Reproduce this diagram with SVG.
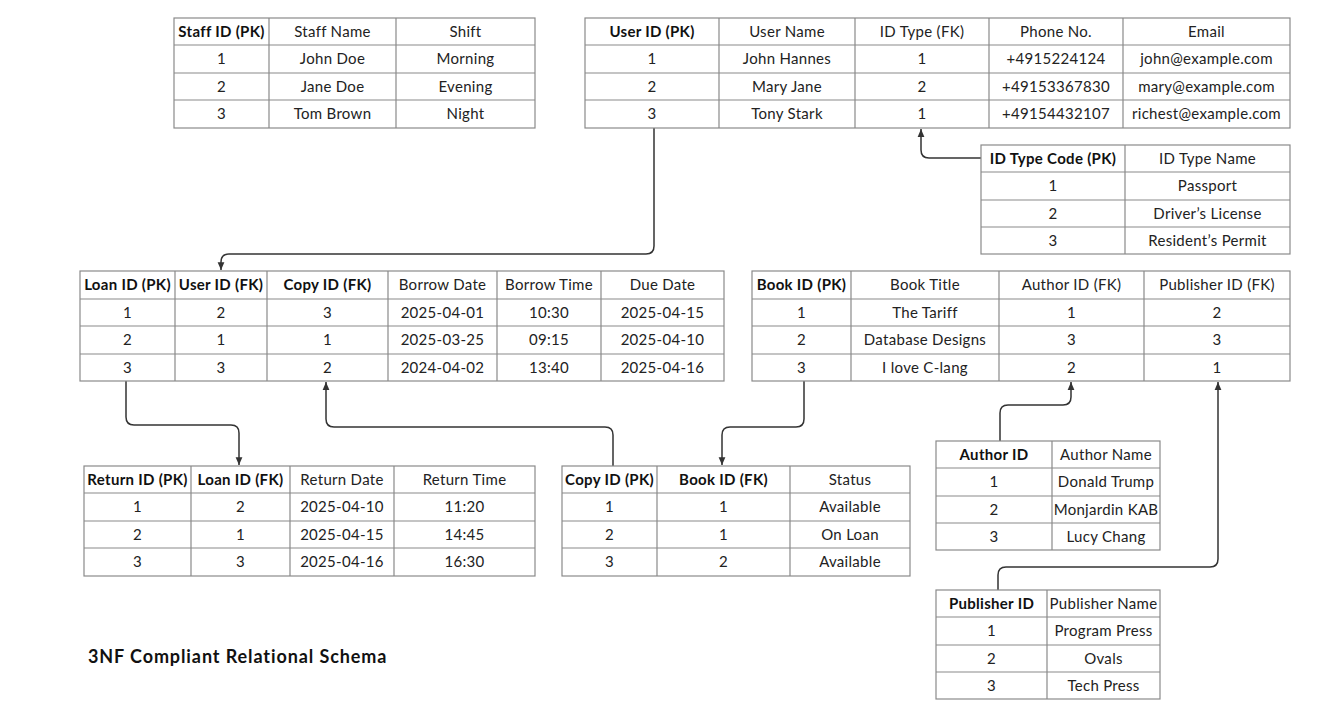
<svg xmlns="http://www.w3.org/2000/svg" width="1335" height="727" viewBox="0 0 1335 727">
<defs>
<style>
.t{fill:none;stroke:#8a8a8a;stroke-width:1.2}
text{font-family:Lato,"Noto Sans",sans-serif;font-size:15px;letter-spacing:0.3px;fill:#222;text-anchor:middle}
.b{font-weight:bold;fill:#111}
.ttl{font-size:18px;font-weight:bold;letter-spacing:0.9px;text-anchor:start;fill:#111}
.cn{fill:none;stroke:#333;stroke-width:1.5}
</style>
<marker id="ar" viewBox="0 0 8 8" refX="7" refY="4" markerWidth="6" markerHeight="6" orient="auto"><path d="M0,1 L7,4 L0,7 z" fill="#333"/></marker>
</defs>
<rect width="1335" height="727" fill="#fff"/>

<g id="connectors">
<path class="cn" marker-end="url(#ar)" d="M654,128 V246 Q654,254 646,254 H229 Q221,254 221,262 V270"/>
<path class="cn" marker-end="url(#ar)" d="M981,158 H929 Q921,158 921,150 V129"/>
<path class="cn" marker-end="url(#ar)" d="M126,381 V417 Q126,425 134,425 H231 Q239,425 239,433 V465"/>
<path class="cn" marker-end="url(#ar)" d="M613,466 V435 Q613,427 605,427 H334 Q326,427 326,419 V382"/>
<path class="cn" marker-end="url(#ar)" d="M804,381 V419 Q804,427 796,427 H730 Q722,427 722,435 V465"/>
<path class="cn" marker-end="url(#ar)" d="M1000,441 V413 Q1000,405 1008,405 H1063 Q1071,405 1071,397 V382"/>
<path class="cn" marker-end="url(#ar)" d="M998,590 V575 Q998,567 1006,567 H1210 Q1218,567 1218,559 V382"/>
</g>

<g id="staff">
<rect class="t" x="174" y="18" width="361" height="110"/>
<path class="t" d="M174,45H535M174,73H535M174,100H535M269,18V128M396,18V128"/>
<text class="b" x="221.5" y="36.5">Staff ID (PK)</text><text x="332.5" y="36.5">Staff Name</text><text x="465.5" y="36.5">Shift</text>
<text x="221.5" y="64">1</text><text x="332.5" y="64">John Doe</text><text x="465.5" y="64">Morning</text>
<text x="221.5" y="91.5">2</text><text x="332.5" y="91.5">Jane Doe</text><text x="465.5" y="91.5">Evening</text>
<text x="221.5" y="119">3</text><text x="332.5" y="119">Tom Brown</text><text x="465.5" y="119">Night</text>
</g>

<g id="user">
<rect class="t" x="585" y="18" width="705" height="110"/>
<path class="t" d="M585,45H1290M585,73H1290M585,100H1290M719,18V128M855,18V128M989,18V128M1123,18V128"/>
<text class="b" x="652" y="36.5">User ID (PK)</text><text x="787" y="36.5">User Name</text><text x="922" y="36.5">ID Type (FK)</text><text x="1056" y="36.5">Phone No.</text><text x="1206.5" y="36.5">Email</text>
<text x="652" y="64">1</text><text x="787" y="64">John Hannes</text><text x="922" y="64">1</text><text x="1056" y="64">+4915224124</text><text x="1206.5" y="64">john@example.com</text>
<text x="652" y="91.5">2</text><text x="787" y="91.5">Mary Jane</text><text x="922" y="91.5">2</text><text x="1056" y="91.5">+49153367830</text><text x="1206.5" y="91.5">mary@example.com</text>
<text x="652" y="119">3</text><text x="787" y="119">Tony Stark</text><text x="922" y="119">1</text><text x="1056" y="119">+49154432107</text><text x="1206.5" y="119">richest@example.com</text>
</g>

<g id="idtype">
<rect class="t" x="981" y="145" width="309" height="109"/>
<path class="t" d="M981,172H1290M981,200H1290M981,227H1290M1125,145V254"/>
<text class="b" x="1053" y="163.5">ID Type Code (PK)</text><text x="1207.5" y="163.5">ID Type Name</text>
<text x="1053" y="191">1</text><text x="1207.5" y="191">Passport</text>
<text x="1053" y="218.5">2</text><text x="1207.5" y="218.5">Driver’s License</text>
<text x="1053" y="245.5">3</text><text x="1207.5" y="245.5">Resident’s Permit</text>
</g>

<g id="loan">
<rect class="t" x="80" y="271" width="644" height="110"/>
<path class="t" d="M80,299H724M80,326H724M80,354H724M175,271V381M267,271V381M388,271V381M497,271V381M601,271V381"/>
<text class="b" x="127.5" y="290">Loan ID (PK)</text><text class="b" x="221" y="290">User ID (FK)</text><text class="b" x="327.5" y="290">Copy ID (FK)</text><text x="442.5" y="290">Borrow Date</text><text x="549" y="290">Borrow Time</text><text x="662.5" y="290">Due Date</text>
<text x="127.5" y="317.5">1</text><text x="221" y="317.5">2</text><text x="327.5" y="317.5">3</text><text x="442.5" y="317.5">2025-04-01</text><text x="549" y="317.5">10:30</text><text x="662.5" y="317.5">2025-04-15</text>
<text x="127.5" y="345">2</text><text x="221" y="345">1</text><text x="327.5" y="345">1</text><text x="442.5" y="345">2025-03-25</text><text x="549" y="345">09:15</text><text x="662.5" y="345">2025-04-10</text>
<text x="127.5" y="372.5">3</text><text x="221" y="372.5">3</text><text x="327.5" y="372.5">2</text><text x="442.5" y="372.5">2024-04-02</text><text x="549" y="372.5">13:40</text><text x="662.5" y="372.5">2025-04-16</text>
</g>

<g id="book">
<rect class="t" x="752" y="271" width="538" height="110"/>
<path class="t" d="M752,299H1290M752,326H1290M752,354H1290M851,271V381M999,271V381M1144,271V381"/>
<text class="b" x="801.5" y="290">Book ID (PK)</text><text x="925" y="290">Book Title</text><text x="1071.5" y="290">Author ID (FK)</text><text x="1217" y="290">Publisher ID (FK)</text>
<text x="801.5" y="317.5">1</text><text x="925" y="317.5">The Tariff</text><text x="1071.5" y="317.5">1</text><text x="1217" y="317.5">2</text>
<text x="801.5" y="345">2</text><text x="925" y="345">Database Designs</text><text x="1071.5" y="345">3</text><text x="1217" y="345">3</text>
<text x="801.5" y="372.5">3</text><text x="925" y="372.5">I love C-lang</text><text x="1071.5" y="372.5">2</text><text x="1217" y="372.5">1</text>
</g>

<g id="return">
<rect class="t" x="84" y="466" width="451" height="110"/>
<path class="t" d="M84,493H535M84,521H535M84,548H535M191,466V576M290,466V576M394,466V576"/>
<text class="b" x="137.5" y="484.5">Return ID (PK)</text><text class="b" x="240.5" y="484.5">Loan ID (FK)</text><text x="342" y="484.5">Return Date</text><text x="464.5" y="484.5">Return Time</text>
<text x="137.5" y="512">1</text><text x="240.5" y="512">2</text><text x="342" y="512">2025-04-10</text><text x="464.5" y="512">11:20</text>
<text x="137.5" y="539.5">2</text><text x="240.5" y="539.5">1</text><text x="342" y="539.5">2025-04-15</text><text x="464.5" y="539.5">14:45</text>
<text x="137.5" y="567">3</text><text x="240.5" y="567">3</text><text x="342" y="567">2025-04-16</text><text x="464.5" y="567">16:30</text>
</g>

<g id="copy">
<rect class="t" x="562" y="466" width="348" height="110"/>
<path class="t" d="M562,493H910M562,521H910M562,548H910M657,466V576M790,466V576"/>
<text class="b" x="609.5" y="484.5">Copy ID (PK)</text><text class="b" x="723.5" y="484.5">Book ID (FK)</text><text x="850" y="484.5">Status</text>
<text x="609.5" y="512">1</text><text x="723.5" y="512">1</text><text x="850" y="512">Available</text>
<text x="609.5" y="539.5">2</text><text x="723.5" y="539.5">1</text><text x="850" y="539.5">On Loan</text>
<text x="609.5" y="567">3</text><text x="723.5" y="567">2</text><text x="850" y="567">Available</text>
</g>

<g id="author">
<rect class="t" x="936" y="441" width="224" height="109"/>
<path class="t" d="M936,468H1160M936,496H1160M936,523H1160M1052,441V550"/>
<text class="b" x="994" y="459.5">Author ID</text><text x="1106" y="459.5">Author Name</text>
<text x="994" y="487">1</text><text x="1106" y="487">Donald Trump</text>
<text x="994" y="514.5">2</text><text x="1106" y="514.5">Monjardin KAB</text>
<text x="994" y="541.5">3</text><text x="1106" y="541.5">Lucy Chang</text>
</g>

<g id="publisher">
<rect class="t" x="936" y="590" width="224" height="109"/>
<path class="t" d="M936,617H1160M936,645H1160M936,672H1160M1047,590V699"/>
<text class="b" x="991.5" y="608.5">Publisher ID</text><text x="1103.5" y="608.5">Publisher Name</text>
<text x="991.5" y="636">1</text><text x="1103.5" y="636">Program Press</text>
<text x="991.5" y="663.5">2</text><text x="1103.5" y="663.5">Ovals</text>
<text x="991.5" y="690.5">3</text><text x="1103.5" y="690.5">Tech Press</text>
</g>

<text class="ttl" x="88" y="663">3NF Compliant Relational Schema</text>
</svg>
